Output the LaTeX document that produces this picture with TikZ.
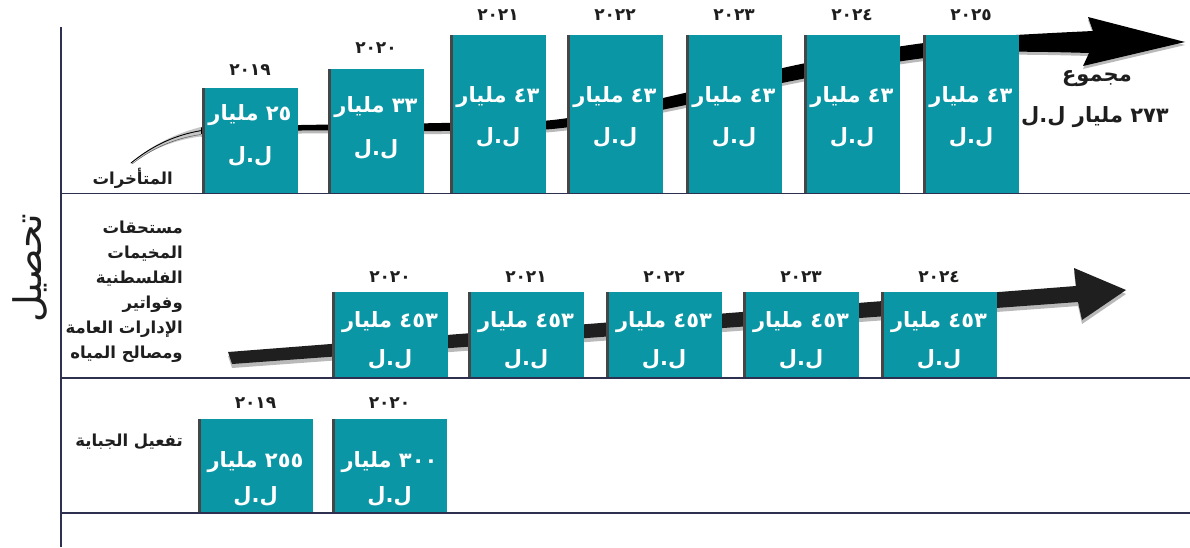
\documentclass[tikz,border=0pt]{standalone}
\usepackage{fontspec}
\newfontfamily\arabicfont[Script=Arabic]{DejaVu Sans}
\TeXXeTstate=1
\definecolor{tealc}{HTML}{0A96A5}
\definecolor{linec}{HTML}{2E3050}
\definecolor{txtc}{HTML}{1E1E1E}
\begin{document}
\begin{tikzpicture}[x=1pt,y=-1pt,
  box/.style={fill=tealc, draw=none, inner sep=0pt, anchor=north west},
  edgestrip/.style={draw=gray!55!black, line width=3pt},
  amt/.style={text=white, font=\arabicfont\bfseries\fontsize{21}{24}\selectfont, inner sep=0pt},
  unit/.style={text=white, font=\arabicfont\bfseries\fontsize{21}{24}\selectfont, inner sep=0pt},
  yr/.style={text=txtc, font=\arabicfont\bfseries\fontsize{17}{18}\selectfont, inner sep=0pt},
  lbl/.style={text=txtc, font=\arabicfont\bfseries\fontsize{16.5}{25}\selectfont, inner sep=0pt},
  tot/.style={text=txtc, font=\arabicfont\bfseries\fontsize{21}{24}\selectfont, inner sep=0pt},
  rulel/.style={draw=linec, line width=1.3pt},
]
\useasboundingbox (0,0) rectangle (1190,547);
\fill[white] (0,0) rectangle (1190,547);

% ---------- row 1 arrow (behind boxes) ----------
\fill[gray!45] (130,164) .. controls (150,146) and (175,133) .. (205,126)
  -- (205,136) .. controls (175,139) and (150,150) .. (130,164) -- cycle;
\draw[black, line width=0.9pt] (131,163) .. controls (153,145) and (177,134) .. (205,130);
\draw[gray!70!black, line width=0.5pt] (132,164) .. controls (154,147) and (178,137) .. (205,134);
\foreach \s/\c in {3/gray!55, 0/black}{
\fill[\c, shift={(1,\s)}] plot[smooth,tension=0.55] coordinates {(200,127.5) (300,125) (440,123) (556,119.5) (675,95) (793,65.5) (912,44.5) (1000,36) (1092,31)}
  -- (1087,17) -- (1184,42) -- (1082,66)
  -- plot[smooth,tension=0.55] coordinates {(1088,53) (1000,52) (912,59.5) (793,80.5) (675,107) (556,128.5) (440,131) (300,130.5) (200,134)} -- cycle;
}

% ---------- row 2 arrow ----------
\foreach \s/\c in {4/gray!55, 0/black!88}{
\fill[\c, shift={(2,\s)}] (226,352) -- (1074,286) -- (1072,268) -- (1124,290) -- (1080,320) -- (1076,302) -- (230,364) -- cycle;
}

% ---------- row 1 boxes ----------
\foreach \n/\l/\t/\am/\yy/\yv/\va/\vu in {
 1/202/88/٢٥/٢٠١٩/70/115/156,
 2/328/69/٣٣/٢٠٢٠/48/107/149,
 3/450/35/٤٣/٢٠٢١/15/97/137,
 4/567/35/٤٣/٢٠٢٢/15/97/137,
 5/686/35/٤٣/٢٠٢٣/15/97/137,
 6/804/35/٤٣/٢٠٢٤/15/97/137,
 7/923/35/٤٣/٢٠٢٥/15/97/137}{
 \pgfmathsetmacro\h{193-\t}
 \pgfmathsetmacro\xc{\l+48}
 \node[box, minimum width=96pt, minimum height=\h pt] (ra\n) at (\l,\t) {};
 \draw[edgestrip] ([xshift=1.5pt]ra\n.north west) -- ([xshift=1.5pt]ra\n.south west);
 \node[amt] (ra\n v) at (\xc,\va) {\beginR\beginL \am\endL{} مليار\endR};
 \node[unit] (ra\n u) at (\xc,\vu) {\beginR ل.ل\endR};
 \node[yr] (ra\n y) at (\xc,\yv) {\yy};
}

% ---------- row 2 boxes ----------
\foreach \n/\l/\yy in {1/332/٢٠٢٠, 2/468/٢٠٢١, 3/606/٢٠٢٢, 4/743/٢٠٢٣, 5/881/٢٠٢٤}{
 \pgfmathsetmacro\xc{\l+58}
 \node[box, minimum width=116pt, minimum height=86pt] (rb\n) at (\l,292) {};
 \draw[edgestrip] ([xshift=1.5pt]rb\n.north west) -- ([xshift=1.5pt]rb\n.south west);
 \node[amt] (rb\n v) at (\xc,322) {\beginR\beginL ٤٥٣\endL{} مليار\endR};
 \node[unit] (rb\n u) at (\xc,359) {\beginR ل.ل\endR};
 \node[yr] (rb\n y) at (\xc,277) {\yy};
}

% ---------- row 3 boxes ----------
\foreach \n/\l/\am/\yy in {1/198/٢٥٥/٢٠١٩, 2/332/٣٠٠/٢٠٢٠}{
 \pgfmathsetmacro\xc{\l+57.5}
 \node[box, minimum width=115pt, minimum height=94pt] (rc\n) at (\l,419) {};
 \draw[edgestrip] ([xshift=1.5pt]rc\n.north west) -- ([xshift=1.5pt]rc\n.south west);
 \node[amt] (rc\n v) at (\xc,462) {\beginR\beginL \am\endL{} مليار\endR};
 \node[unit] (rc\n u) at (\xc,496) {\beginR ل.ل\endR};
 \node[yr] (rc\n y) at (\xc,403) {\yy};
}

% ---------- grid lines ----------
\coordinate (ax0) at (61,27);
\coordinate (ax1) at (61,547);
\coordinate (h1a) at (61,193.5); \coordinate (h1b) at (1190,193.5);
\coordinate (h2a) at (61,378);   \coordinate (h2b) at (1190,378);
\coordinate (h3a) at (61,513);   \coordinate (h3b) at (1190,513);
\draw[rulel] (ax0) -- (ax1);
\draw[rulel] (h1a) -- (h1b);
\draw[rulel] (h2a) -- (h2b);
\draw[rulel] (h3a) -- (h3b);

% ---------- labels ----------
\node[lbl, anchor=east] (late) at (173,178) {\beginR المتأخرات\endR};
\node[lbl, anchor=north east, align=right] (camps) at (183,221) {\beginR مستحقات\endR\\ \beginR المخيمات\endR\\ \beginR الفلسطنية\endR\\ \beginR وفواتير\endR\\ \beginR الإدارات العامة\endR\\ \beginR ومصالح المياه\endR};
\node[lbl, anchor=east] (collect) at (183,442) {\beginR تفعيل الجباية\endR};
\node[tot] (tot1) at (1097,79) {\beginR مجموع\endR};
\node[tot] (tot2) at (1095,117) {\beginR\beginL ٢٧٣\endL{} مليار ل.ل\endR};
\node[text=txtc, rotate=90, inner sep=0pt, font=\arabicfont\fontsize{38}{40}\selectfont] (vt) at (30,268) {\beginR تحصيل\endR};
\end{tikzpicture}
\end{document}
